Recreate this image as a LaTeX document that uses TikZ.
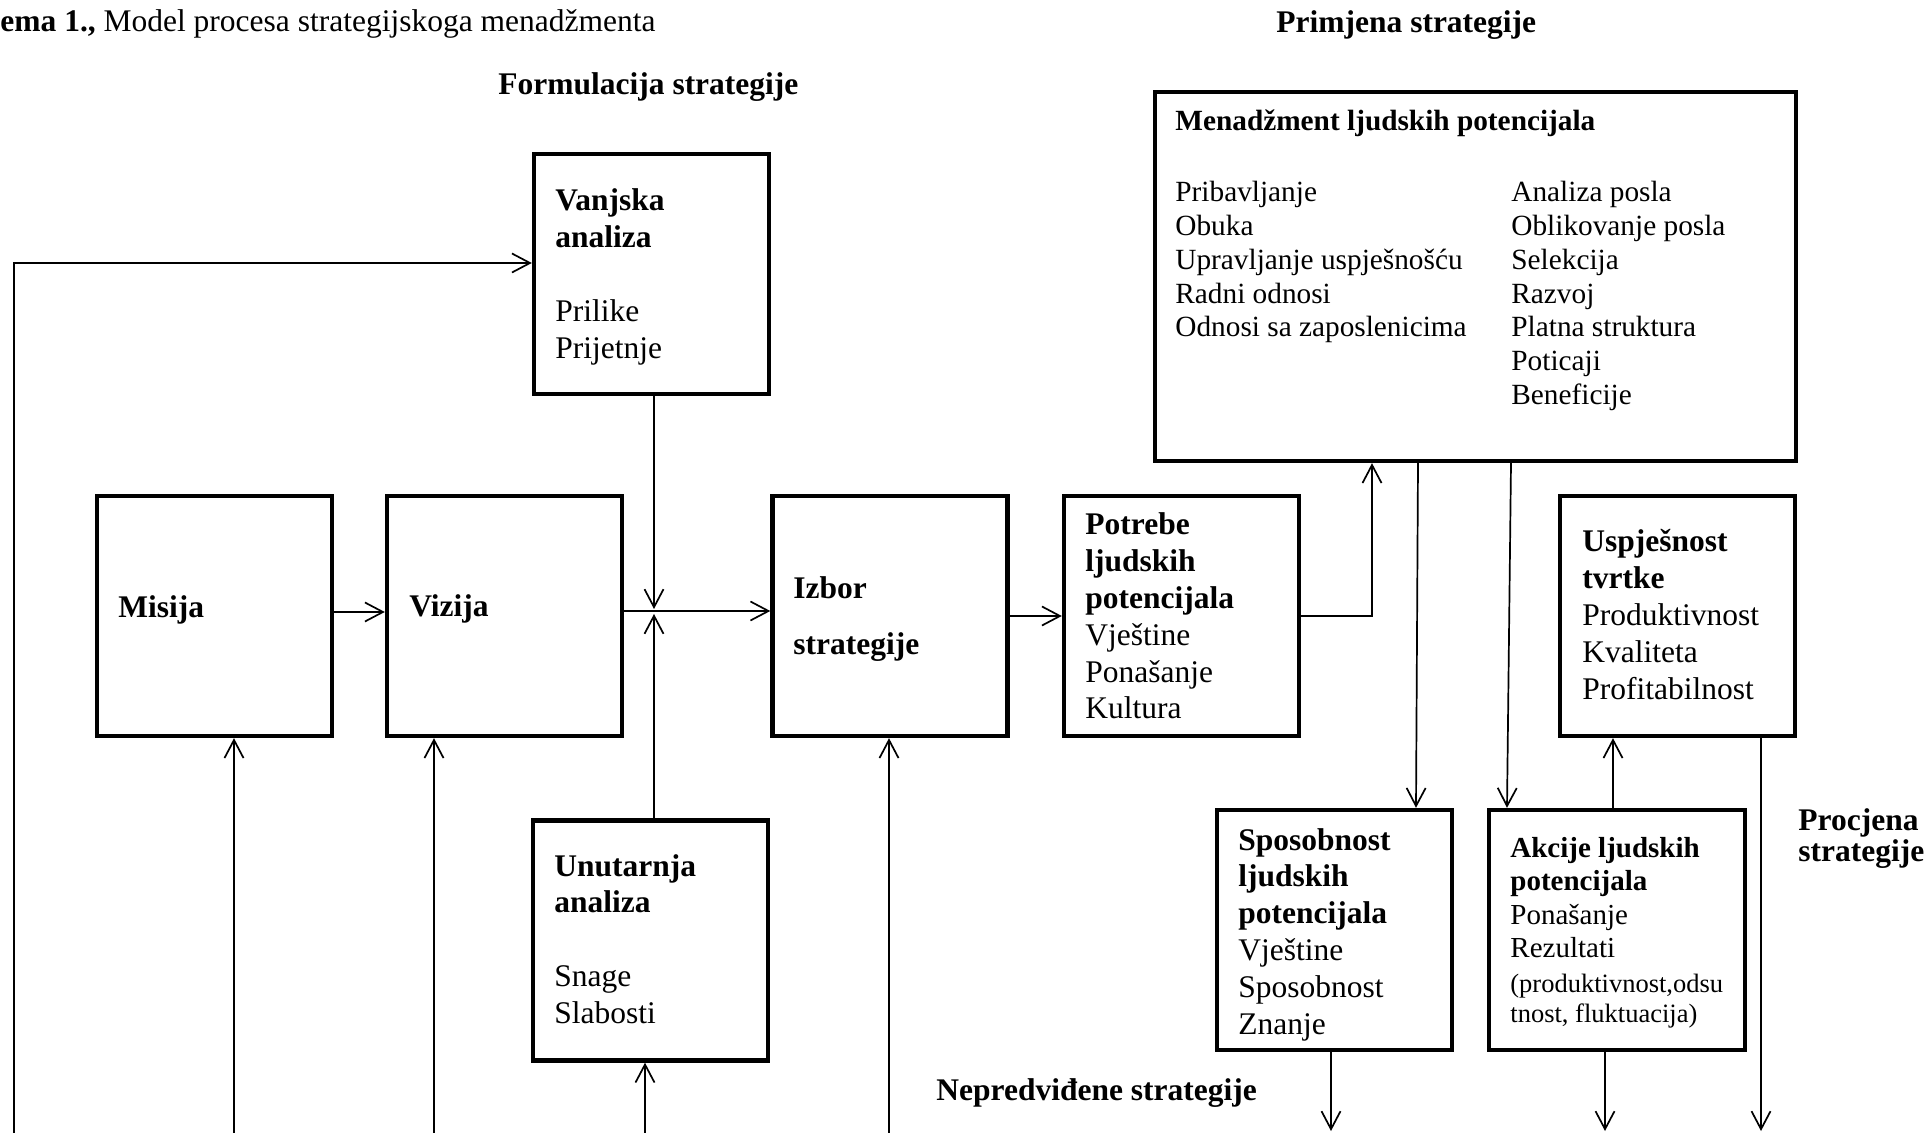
\documentclass[tikz,border=0pt]{standalone}
\usepackage{fontspec}
\setmainfont{Liberation Serif}
\usetikzlibrary{arrows.meta}
\newcommand\mylines[1]{\begin{tabular}[t]{@{}l@{}}#1\end{tabular}}
\begin{document}
\begin{tikzpicture}[x=0.5pt,y=-0.5pt,
  box/.style={draw,line width=2.2pt,inner sep=0pt,minimum width=117.5pt,minimum height=120pt},
  conn/.style={line width=0.85pt},
  arr/.style={conn,-{Straight Barb[length=9pt,width=9.5pt,line width=0.85pt]}},
  txt/.style={anchor=base west,inner sep=0pt,font=\fontsize{15.75pt}{18.4pt}\selectfont},
  mtxt/.style={anchor=base west,inner sep=0pt,font=\fontsize{14.65pt}{16.85pt}\selectfont},
  atxt/.style={anchor=base west,inner sep=0pt,font=\fontsize{14.5pt}{16.8pt}\selectfont},
  ptxt/.style={anchor=base west,inner sep=0pt,font=\fontsize{13.25pt}{15pt}\selectfont},
  lbl/.style={anchor=base west,inner sep=0pt,font=\fontsize{15.75pt}{15.5pt}\selectfont\bfseries}
]
\useasboundingbox (0,0) rectangle (1928,1133);

% headings
\node[txt] (title) at (0,32) {\textbf{ema 1.,} Model procesa strategijskoga menadžmenta};
\node[lbl] (formulacija) at (498,95) {Formulacija strategije};
\node[lbl] (primjena) at (1276,33) {Primjena strategije};
\node[lbl] (nepredvidene) at (936,1100) {Nepredviđene strategije};
\node[lbl] (procjena) at (1798,830) {\mylines{Procjena\\strategije}};

% boxes
\node[box] (vanjska) at (651.5,274) {};
\node[box] (misija) at (214.5,616) {};
\node[box] (vizija) at (504.5,616) {};
\node[box] (izbor) at (890,616) {};
\node[box] (potrebe) at (1181.5,616) {};
\node[box] (uspjesnost) at (1677.5,616) {};
\node[box,minimum width=320.5pt,minimum height=184.5pt] (menadz) at (1475.5,276.5) {};
\node[box] (unutarnja) at (650.5,940.5) {};
\node[box] (sposobnost) at (1334.5,930) {};
\node[box,minimum width=128pt] (akcije) at (1617,930) {};

% box texts
\node[txt] (tvanjska) at (555,211) {\mylines{\textbf{Vanjska}\\\textbf{analiza}\\ \\Prilike\\Prijetnje}};
\node[txt] (tmisija) at (118,618) {\textbf{Misija}};
\node[txt] (tvizija) at (409,617) {\textbf{Vizija}};
\node[txt] (tizbor) at (793,599) {\mylines{\textbf{Izbor}\\[9.6pt]\textbf{strategije}}};
\node[txt] (tpotrebe) at (1085,535) {\mylines{\textbf{Potrebe}\\\textbf{ljudskih}\\\textbf{potencijala}\\Vještine\\Ponašanje\\Kultura}};
\node[txt] (tuspjesnost) at (1582,552) {\mylines{\textbf{Uspješnost}\\\textbf{tvrtke}\\Produktivnost\\Kvaliteta\\Profitabilnost}};
\node[txt] (tunutarnja) at (554,876) {\mylines{\textbf{Unutarnja}\\\textbf{analiza}\\ \\Snage\\Slabosti}};
\node[txt] (tsposobnost) at (1238,850) {\mylines{\textbf{Sposobnost}\\\textbf{ljudskih}\\\textbf{potencijala}\\Vještine\\Sposobnost\\Znanje}};
\node[atxt] (takcije) at (1510,857) {\mylines{\textbf{Akcije ljudskih}\\\textbf{potencijala}\\Ponašanje\\Rezultati}};
\node[ptxt] (takcije2) at (1510,992) {\mylines{(produktivnost,odsu\\tnost, fluktuacija)}};
\node[mtxt] (tmenadz) at (1175,131) {\textbf{Menadžment ljudskih potencijala}};
\node[mtxt] (tmleft) at (1175,202) {\mylines{Pribavljanje\\Obuka\\Upravljanje uspješnošću\\Radni odnosi\\Odnosi sa zaposlenicima}};
\node[mtxt] (tmright) at (1511,202) {\mylines{Analiza posla\\Oblikovanje posla\\Selekcija\\Razvoj\\Platna struktura\\Poticaji\\Beneficije}};

% free ends
\coordinate (loopstart) at (14,1133);
\coordinate (jtop) at (654,609);
\coordinate (jbot) at (654,614);
\coordinate (bmisija) at (234,1133);
\coordinate (bvizija) at (434,1133);
\coordinate (bunutarnja) at (645,1133);
\coordinate (bizbor) at (889,1133);
\coordinate (esposobnost) at (1331,1131);
\coordinate (eakcije) at (1605,1131);
\coordinate (euspjesnost) at (1761,1131);

% connectors
\draw[arr,line width=1.2pt] (loopstart) |- (vanjska.west |- 0,263);
\draw[arr] (misija.east |- 0,612) -- (vizija.west |- 0,612);
\draw[arr] (vizija.east |- 0,611) -- (izbor.west |- 0,611);
\draw[arr] (vanjska.south -| 654,0) -- (jtop);
\draw[arr] (unutarnja.north -| 654,0) -- (jbot);
\draw[arr] (izbor.east |- 0,616) -- (potrebe.west |- 0,616);
\draw[arr] (potrebe.east |- 0,616) -| (menadz.south -| 1372,0);
\draw[arr] (menadz.south -| 1418,0) -- (sposobnost.north -| 1416,0);
\draw[arr] (menadz.south -| 1511,0) -- (akcije.north -| 1507,0);
\draw[arr] (akcije.north -| 1613,0) -- (uspjesnost.south -| 1613,0);
\draw[arr] (uspjesnost.south -| 1761,0) -- (euspjesnost);
\draw[arr] (sposobnost.south -| 1331,0) -- (esposobnost);
\draw[arr] (akcije.south -| 1605,0) -- (eakcije);
\draw[arr] (bmisija) -- (misija.south -| bmisija);
\draw[arr] (bvizija) -- (vizija.south -| bvizija);
\draw[arr] (bunutarnja) -- (unutarnja.south -| bunutarnja);
\draw[arr] (bizbor) -- (izbor.south -| bizbor);
\end{tikzpicture}
\end{document}
